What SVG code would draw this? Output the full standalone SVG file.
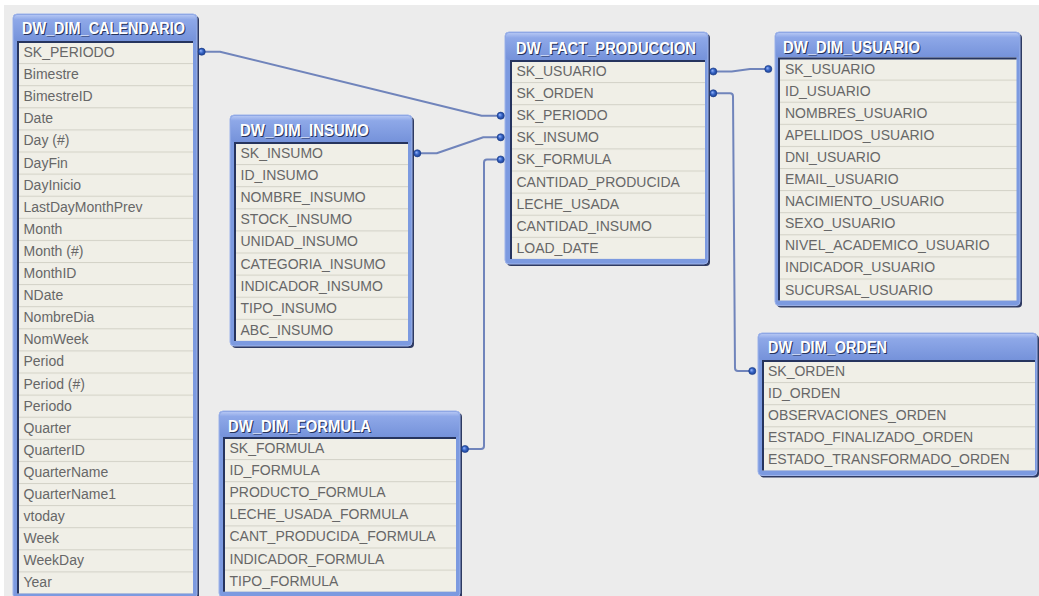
<svg xmlns="http://www.w3.org/2000/svg" width="1039" height="596" viewBox="0 0 1039 596">
  <defs>
    <style>
      .shadow { fill: #2e3a62; }
      .frame { fill: #7c9ae0; stroke: #9fb4ea; stroke-width: 1; }
      .hdr { fill: url(#hdrGrad); }
      .body { fill: url(#rows); }
      .inset { fill: none; stroke: #26345e; stroke-width: 2; }
      .title { font-family: "Liberation Sans", Arial, sans-serif; font-weight: bold; font-size: 16px; fill: #ffffff; }
      .title-sh { font-family: "Liberation Sans", Arial, sans-serif; font-weight: bold; font-size: 16px; fill: #25335c; }
      .row { font-family: "Liberation Sans", Arial, sans-serif; font-size: 14px; fill: #676767; }
      .wire { fill: none; stroke: #7084bb; stroke-width: 2; stroke-linejoin: round; }
      .dot { fill: url(#dotGrad); stroke: #1d3f8e; stroke-width: 0.6; }
    </style>
    <linearGradient id="hdrGrad" x1="0" y1="0" x2="0" y2="1">
      <stop offset="0" stop-color="#b3c5f3"/>
      <stop offset="0.18" stop-color="#8ea8e8"/>
      <stop offset="1" stop-color="#7592da"/>
    </linearGradient>
    <radialGradient id="dotGrad" cx="0.5" cy="0.5" r="0.5" fx="0.35" fy="0.35">
      <stop offset="0" stop-color="#9ab8ff"/>
      <stop offset="0.55" stop-color="#3563c4"/>
      <stop offset="1" stop-color="#1d3f8e"/>
    </radialGradient>
    <pattern id="rows" patternUnits="userSpaceOnUse" width="8" height="22.1">
      <rect width="8" height="22.1" fill="#f0efe7"/>
      <rect width="8" height="1" fill="#d3d2c7"/>
    </pattern>
  </defs>

  <!-- canvas -->
  <rect width="1039" height="596" fill="#ffffff"/>
  <rect x="4" y="5" width="1035" height="591" fill="#ececec"/>

  <!-- connectors -->
  <g id="connectors">
    <path class="wire" d="M201.7,51.7 H220 L481.7,115.7 H500.7"/>
    <path class="wire" d="M417.3,153.3 H436.7 L483.3,137.3 H500.7"/>
    <path class="wire" d="M465,449 H481 Q484,449 484,446 V162.5 Q484,159.5 487,159.5 H500.7"/>
    <path class="wire" d="M713.3,71.5 H731.7 L750,69 H768.3"/>
    <path class="wire" d="M713.3,93.3 H730 Q733,93.3 733,96.3 L735,368 Q735,371 738,371 H752.3"/>
  </g>

  <!-- DW_DIM_CALENDARIO -->
  <g id="dw_dim_calendario" transform="translate(13,14)">
    <rect class="shadow" x="2" y="2" width="184" height="584.5" rx="4"/>
    <rect class="frame" width="184" height="584.5" rx="4"/>
    <rect class="hdr" x="1" y="1" width="182" height="26" rx="3"/>
    <text class="title-sh" x="10" y="21" textLength="163" lengthAdjust="spacingAndGlyphs">DW_DIM_CALENDARIO</text>
    <text class="title" x="9" y="20" textLength="163" lengthAdjust="spacingAndGlyphs">DW_DIM_CALENDARIO</text>
    <g transform="translate(4,27)">
      <rect class="body" width="176" height="552.5"/>
      <path class="inset" d="M1,552.5 V1 H176"/>
      <text class="row" x="6.5" y="16">SK_PERIODO</text>
      <text class="row" x="6.5" y="38.1">Bimestre</text>
      <text class="row" x="6.5" y="60.2">BimestreID</text>
      <text class="row" x="6.5" y="82.3">Date</text>
      <text class="row" x="6.5" y="104.4">Day (#)</text>
      <text class="row" x="6.5" y="126.5">DayFin</text>
      <text class="row" x="6.5" y="148.6">DayInicio</text>
      <text class="row" x="6.5" y="170.7">LastDayMonthPrev</text>
      <text class="row" x="6.5" y="192.8">Month</text>
      <text class="row" x="6.5" y="214.9">Month (#)</text>
      <text class="row" x="6.5" y="237">MonthID</text>
      <text class="row" x="6.5" y="259.1">NDate</text>
      <text class="row" x="6.5" y="281.2">NombreDia</text>
      <text class="row" x="6.5" y="303.3">NomWeek</text>
      <text class="row" x="6.5" y="325.4">Period</text>
      <text class="row" x="6.5" y="347.5">Period (#)</text>
      <text class="row" x="6.5" y="369.6">Periodo</text>
      <text class="row" x="6.5" y="391.7">Quarter</text>
      <text class="row" x="6.5" y="413.8">QuarterID</text>
      <text class="row" x="6.5" y="435.9">QuarterName</text>
      <text class="row" x="6.5" y="458">QuarterName1</text>
      <text class="row" x="6.5" y="480.1">vtoday</text>
      <text class="row" x="6.5" y="502.2">Week</text>
      <text class="row" x="6.5" y="524.3">WeekDay</text>
      <text class="row" x="6.5" y="546.4">Year</text>
    </g>
  </g>

  <!-- DW_DIM_INSUMO -->
  <g id="dw_dim_insumo" transform="translate(230,115)">
    <rect class="shadow" x="2" y="2" width="182" height="231" rx="4"/>
    <rect class="frame" width="182" height="231" rx="4"/>
    <rect class="hdr" x="1" y="1" width="180" height="26" rx="3"/>
    <text class="title-sh" x="11" y="22" textLength="129" lengthAdjust="spacingAndGlyphs">DW_DIM_INSUMO</text>
    <text class="title" x="10" y="21" textLength="129" lengthAdjust="spacingAndGlyphs">DW_DIM_INSUMO</text>
    <g transform="translate(4,27)">
      <rect class="body" width="174" height="198.9"/>
      <path class="inset" d="M1,198.9 V1 H174"/>
      <text class="row" x="6.5" y="16">SK_INSUMO</text>
      <text class="row" x="6.5" y="38.1">ID_INSUMO</text>
      <text class="row" x="6.5" y="60.2">NOMBRE_INSUMO</text>
      <text class="row" x="6.5" y="82.3">STOCK_INSUMO</text>
      <text class="row" x="6.5" y="104.4">UNIDAD_INSUMO</text>
      <text class="row" x="6.5" y="126.5">CATEGORIA_INSUMO</text>
      <text class="row" x="6.5" y="148.6">INDICADOR_INSUMO</text>
      <text class="row" x="6.5" y="170.7">TIPO_INSUMO</text>
      <text class="row" x="6.5" y="192.8">ABC_INSUMO</text>
    </g>
  </g>

  <!-- DW_DIM_FORMULA -->
  <g id="dw_dim_formula" transform="translate(219,411)">
    <rect class="shadow" x="2" y="2" width="241" height="186" rx="4"/>
    <rect class="frame" width="241" height="186" rx="4"/>
    <rect class="hdr" x="1" y="1" width="239" height="25" rx="3"/>
    <text class="title-sh" x="10" y="22" textLength="143" lengthAdjust="spacingAndGlyphs">DW_DIM_FORMULA</text>
    <text class="title" x="9" y="21" textLength="143" lengthAdjust="spacingAndGlyphs">DW_DIM_FORMULA</text>
    <g transform="translate(4,26)">
      <rect class="body" width="233" height="154.7"/>
      <path class="inset" d="M1,154.7 V1 H233"/>
      <text class="row" x="6.5" y="16">SK_FORMULA</text>
      <text class="row" x="6.5" y="38.1">ID_FORMULA</text>
      <text class="row" x="6.5" y="60.2">PRODUCTO_FORMULA</text>
      <text class="row" x="6.5" y="82.3">LECHE_USADA_FORMULA</text>
      <text class="row" x="6.5" y="104.4">CANT_PRODUCIDA_FORMULA</text>
      <text class="row" x="6.5" y="126.5">INDICADOR_FORMULA</text>
      <text class="row" x="6.5" y="148.6">TIPO_FORMULA</text>
    </g>
  </g>

  <!-- DW_FACT_PRODUCCION -->
  <g id="dw_fact_produccion" transform="translate(505,32)">
    <rect class="shadow" x="2" y="2" width="203" height="232" rx="4"/>
    <rect class="frame" width="203" height="232" rx="4"/>
    <rect class="hdr" x="1" y="1" width="201" height="27" rx="3"/>
    <text class="title-sh" x="12" y="23" textLength="180" lengthAdjust="spacingAndGlyphs">DW_FACT_PRODUCCION</text>
    <text class="title" x="11" y="22" textLength="180" lengthAdjust="spacingAndGlyphs">DW_FACT_PRODUCCION</text>
    <g transform="translate(5,28)">
      <rect class="body" width="195" height="198.9"/>
      <path class="inset" d="M1,198.9 V1 H195"/>
      <text class="row" x="6.5" y="16">SK_USUARIO</text>
      <text class="row" x="6.5" y="38.1">SK_ORDEN</text>
      <text class="row" x="6.5" y="60.2">SK_PERIODO</text>
      <text class="row" x="6.5" y="82.3">SK_INSUMO</text>
      <text class="row" x="6.5" y="104.4">SK_FORMULA</text>
      <text class="row" x="6.5" y="126.5">CANTIDAD_PRODUCIDA</text>
      <text class="row" x="6.5" y="148.6">LECHE_USADA</text>
      <text class="row" x="6.5" y="170.7">CANTIDAD_INSUMO</text>
      <text class="row" x="6.5" y="192.8">LOAD_DATE</text>
    </g>
  </g>

  <!-- DW_DIM_USUARIO -->
  <g id="dw_dim_usuario" transform="translate(775,32)">
    <rect class="shadow" x="2" y="2" width="245" height="273.6" rx="4"/>
    <rect class="frame" width="245" height="273.6" rx="4"/>
    <rect class="hdr" x="1" y="1" width="243" height="24.5" rx="3"/>
    <text class="title-sh" x="9" y="22" textLength="137" lengthAdjust="spacingAndGlyphs">DW_DIM_USUARIO</text>
    <text class="title" x="8" y="21" textLength="137" lengthAdjust="spacingAndGlyphs">DW_DIM_USUARIO</text>
    <g transform="translate(3,25.5)">
      <rect class="body" width="238.5" height="243.1"/>
      <path class="inset" d="M1,243.1 V1 H238.5"/>
      <text class="row" x="7" y="16">SK_USUARIO</text>
      <text class="row" x="7" y="38.1">ID_USUARIO</text>
      <text class="row" x="7" y="60.2">NOMBRES_USUARIO</text>
      <text class="row" x="7" y="82.3">APELLIDOS_USUARIO</text>
      <text class="row" x="7" y="104.4">DNI_USUARIO</text>
      <text class="row" x="7" y="126.5">EMAIL_USUARIO</text>
      <text class="row" x="7" y="148.6">NACIMIENTO_USUARIO</text>
      <text class="row" x="7" y="170.7">SEXO_USUARIO</text>
      <text class="row" x="7" y="192.8">NIVEL_ACADEMICO_USUARIO</text>
      <text class="row" x="7" y="214.9">INDICADOR_USUARIO</text>
      <text class="row" x="7" y="237">SUCURSAL_USUARIO</text>
    </g>
  </g>

  <!-- DW_DIM_ORDEN -->
  <g id="dw_dim_orden" transform="translate(758,333)">
    <rect class="shadow" x="2" y="2" width="279" height="142.5" rx="4"/>
    <rect class="frame" width="279" height="142.5" rx="4"/>
    <rect class="hdr" x="1" y="1" width="277" height="26" rx="3"/>
    <text class="title-sh" x="11" y="21" textLength="119" lengthAdjust="spacingAndGlyphs">DW_DIM_ORDEN</text>
    <text class="title" x="10" y="20" textLength="119" lengthAdjust="spacingAndGlyphs">DW_DIM_ORDEN</text>
    <g transform="translate(4,27)">
      <rect class="body" width="273" height="110.5"/>
      <path class="inset" d="M1,110.5 V1 H273"/>
      <text class="row" x="6" y="16">SK_ORDEN</text>
      <text class="row" x="6" y="38.1">ID_ORDEN</text>
      <text class="row" x="6" y="60.2">OBSERVACIONES_ORDEN</text>
      <text class="row" x="6" y="82.3">ESTADO_FINALIZADO_ORDEN</text>
      <text class="row" x="6" y="104.4">ESTADO_TRANSFORMADO_ORDEN</text>
    </g>
  </g>

  <!-- key endpoints -->
  <g id="endpoints">
    <circle class="dot" cx="201.7" cy="51.7" r="3.6"/>
    <circle class="dot" cx="500.7" cy="115.7" r="3.6"/>
    <circle class="dot" cx="417.3" cy="153.3" r="3.6"/>
    <circle class="dot" cx="500.7" cy="137.3" r="3.6"/>
    <circle class="dot" cx="465" cy="449" r="3.6"/>
    <circle class="dot" cx="500.7" cy="159.5" r="3.6"/>
    <circle class="dot" cx="713.3" cy="71.5" r="3.6"/>
    <circle class="dot" cx="768.3" cy="69" r="3.6"/>
    <circle class="dot" cx="713.3" cy="93.3" r="3.6"/>
    <circle class="dot" cx="752.3" cy="371" r="3.6"/>
  </g>
</svg>
